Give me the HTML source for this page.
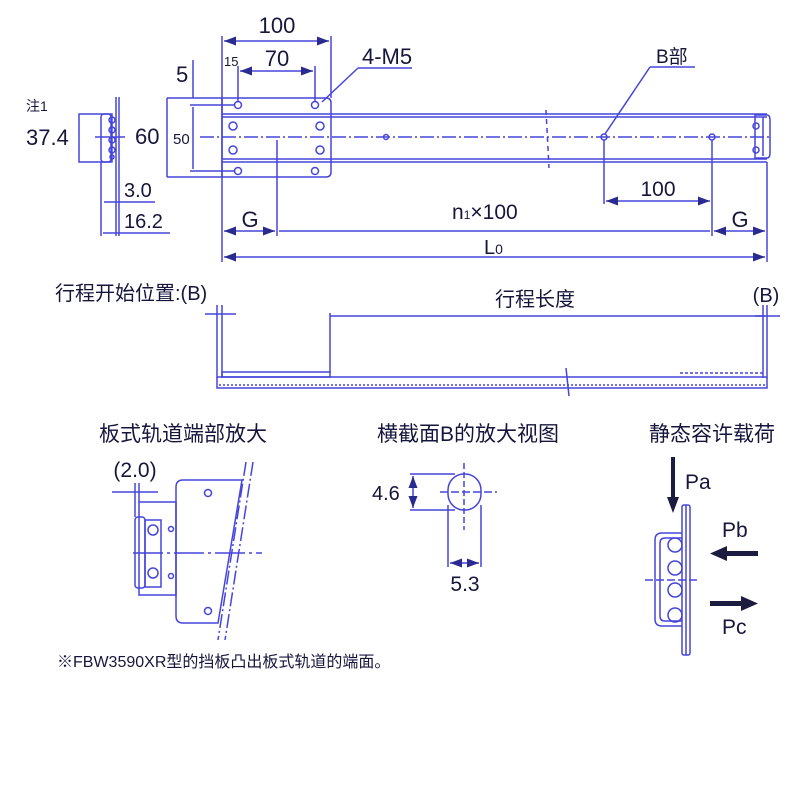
<!DOCTYPE html>
<html><head><meta charset="utf-8"><style>
body{margin:0;background:#fff}
svg{display:block}
text{font-family:"Liberation Sans","Noto Sans CJK SC",sans-serif;fill:#16163c}
</style></head><body>
<svg width="800" height="800" viewBox="0 0 800 800" xmlns="http://www.w3.org/2000/svg">
<defs>
<marker id="a" markerWidth="8" markerHeight="6" refX="8" refY="3" orient="auto-start-reverse"><path d="M0,0 L8,3 L0,6z" fill="#2a2a90"/></marker>
</defs>
<g stroke="#4545dc" stroke-width="1.5" fill="none">
<path d="M222,98 H326 Q331,98 331,103 V172 Q331,177 326,177 H222 Z"/>
<line x1="222" y1="114" x2="767" y2="114"/><line x1="222" y1="117" x2="767" y2="117"/>
<line x1="222" y1="159" x2="767" y2="159"/><line x1="222" y1="162" x2="767" y2="162"/>
<path d="M755,115 H767 Q770,115 770,120 V153 Q770,158 767,158 H755 Z"/>
<line x1="763" y1="117" x2="763" y2="156"/>
<line x1="200" y1="137" x2="770" y2="137" stroke-dasharray="14,3,2,3"/>
<path d="M546,110 L549,168" stroke-dasharray="5,4"/>
<circle cx="238" cy="105" r="3.5"/><circle cx="315" cy="105" r="3.5"/>
<circle cx="238" cy="171" r="3.5"/><circle cx="315" cy="171" r="3.5"/>
<circle cx="233" cy="126" r="4"/><circle cx="320" cy="126" r="4"/>
<circle cx="233" cy="150" r="4"/><circle cx="320" cy="150" r="4"/>
<circle cx="386" cy="137" r="2.5"/><circle cx="604" cy="137" r="3"/><circle cx="712" cy="137" r="3"/>
<circle cx="756" cy="126" r="3"/><circle cx="756" cy="150" r="3"/>
<line x1="222" y1="36" x2="222" y2="262"/><line x1="331" y1="36" x2="331" y2="98"/>
<line x1="224" y1="41" x2="329" y2="41" marker-start="url(#a)" marker-end="url(#a)"/>
<line x1="238" y1="66" x2="238" y2="102"/><line x1="315" y1="66" x2="315" y2="102"/>
<line x1="240" y1="71" x2="313" y2="71" marker-start="url(#a)" marker-end="url(#a)"/>
<line x1="190" y1="105" x2="235" y2="105"/><line x1="190" y1="171" x2="235" y2="171"/>
<line x1="193" y1="60" x2="193" y2="98"/><line x1="193" y1="107" x2="193" y2="169"/>
<line x1="167" y1="98" x2="222" y2="98"/><line x1="167" y1="177" x2="222" y2="177"/>
<line x1="167" y1="98" x2="167" y2="177"/>
<line x1="358" y1="68" x2="412" y2="68"/><line x1="358" y1="68" x2="322" y2="102"/>
<line x1="650" y1="67" x2="695" y2="67"/><line x1="650" y1="67" x2="605" y2="134"/>
<line x1="604" y1="140" x2="604" y2="204"/><line x1="712" y1="140" x2="712" y2="236"/>
<line x1="606" y1="201" x2="710" y2="201" marker-start="url(#a)" marker-end="url(#a)"/>
<line x1="277" y1="140" x2="277" y2="236"/>
<line x1="224" y1="231" x2="275" y2="231" marker-start="url(#a)" marker-end="url(#a)"/>
<line x1="279" y1="231" x2="710" y2="231"/>
<line x1="714" y1="231" x2="765" y2="231" marker-start="url(#a)" marker-end="url(#a)"/>
<line x1="767" y1="162" x2="767" y2="262"/>
<line x1="224" y1="257" x2="765" y2="257" marker-start="url(#a)" marker-end="url(#a)"/>
<path d="M79,114 H112 V162 H79 Z"/>
<rect x="101" y="114" width="10" height="48" rx="3"/>
<line x1="116" y1="97" x2="116" y2="180"/><line x1="119" y1="97" x2="119" y2="180"/>
<circle cx="112" cy="120" r="3"/><circle cx="112" cy="130" r="3"/><circle cx="112" cy="140" r="3"/><circle cx="112" cy="150" r="3"/><circle cx="112" cy="157" r="2"/>
<line x1="95" y1="137" x2="125" y2="137"/>
<line x1="101" y1="162" x2="101" y2="236"/><line x1="116" y1="180" x2="116" y2="236"/><line x1="119" y1="180" x2="119" y2="236"/>
<line x1="104" y1="202" x2="155" y2="202"/>
<line x1="103" y1="233" x2="170" y2="233"/>
<line x1="217" y1="305" x2="217" y2="378"/><line x1="222" y1="305" x2="222" y2="378"/>
<line x1="205" y1="314" x2="236" y2="314"/>
<line x1="330" y1="313" x2="330" y2="373"/>
<line x1="330" y1="316" x2="765" y2="316"/>
<line x1="763" y1="305" x2="763" y2="378"/><line x1="767" y1="305" x2="767" y2="378"/>
<line x1="755" y1="316" x2="780" y2="316"/>
<rect x="222" y="372" width="108" height="5"/>
<line x1="217" y1="377" x2="767" y2="377"/>
<path d="M217,377 V388 H767 V377"/>
<line x1="219" y1="385" x2="765" y2="385" stroke-dasharray="2,2"/>
<line x1="680" y1="373" x2="765" y2="373" stroke-dasharray="3,2"/>
<line x1="566" y1="368" x2="569" y2="396"/>
<path d="M183,480 H242 L218,623 H183 Q176,623 176,616 V487 Q176,480 183,480 Z"/>
<circle cx="208" cy="493" r="3.5"/><circle cx="208" cy="611" r="3.5"/>
<rect x="139" y="502" width="37" height="93"/>
<rect x="135" y="517" width="10" height="71" rx="3"/>
<rect x="145" y="520" width="16" height="67"/>
<circle cx="153" cy="530" r="5"/><circle cx="153" cy="573" r="5"/>
<circle cx="171" cy="529" r="2.5"/><circle cx="171" cy="576" r="2.5"/>
<line x1="133" y1="553" x2="262" y2="553" stroke-dasharray="30,4,3,4"/>
<line x1="246" y1="462" x2="218" y2="640" stroke-dasharray="14,3,2,3"/>
<line x1="253" y1="462" x2="225" y2="640" stroke-dasharray="14,3,2,3"/>
<line x1="135" y1="483" x2="135" y2="517"/><line x1="139" y1="483" x2="139" y2="502"/>
<line x1="112" y1="492" x2="158" y2="492"/>
<rect x="448" y="474" width="33" height="36" rx="16"/>
<line x1="464" y1="463" x2="464" y2="530" stroke-dasharray="6,3"/>
<line x1="440" y1="492" x2="497" y2="492" stroke-dasharray="8,3"/>
<line x1="410" y1="474" x2="455" y2="474"/><line x1="410" y1="510" x2="455" y2="510"/>
<line x1="413" y1="476" x2="413" y2="508" marker-start="url(#a)" marker-end="url(#a)"/>
<line x1="448" y1="505" x2="448" y2="567"/><line x1="481" y1="505" x2="481" y2="567"/>
<line x1="450" y1="563" x2="479" y2="563" marker-start="url(#a)" marker-end="url(#a)"/>
<rect x="682" y="505" width="8" height="150" rx="2"/>
<line x1="686" y1="505" x2="686" y2="655"/>
<path d="M682,533 H662 Q655,533 655,540 V619 Q655,626 662,626 H682"/>
<path d="M682,538 H665 Q660,538 660,543 V616 Q660,621 665,621 H682"/>
<circle cx="675" cy="545" r="7"/><circle cx="675" cy="568" r="7"/><circle cx="675" cy="590" r="7"/><circle cx="675" cy="615" r="7"/>
<line x1="645" y1="580" x2="700" y2="580" stroke-dasharray="8,3"/>
</g>
<g fill="#1c1c40" stroke="none">
<rect x="671" y="457" width="4" height="42"/><path d="M667,497 L679,497 L673,513z"/>
<rect x="725" y="551" width="33" height="5"/><path d="M727,546 L727,561 L710,553.5z"/>
<rect x="710" y="601" width="33" height="5"/><path d="M741,596 L741,611 L758,603.5z"/>
</g>
<g font-size="22">
<text x="277" y="33" text-anchor="middle">100</text>
<text x="277" y="66" text-anchor="middle">70</text>
<text x="224" y="66" font-size="13">15</text>
<text x="176" y="82">5</text>
<text x="173" y="144" font-size="15">50</text>
<text x="135" y="144">60</text>
<text x="362" y="64">4-M5</text>
<text x="656" y="63" font-size="19">B部</text>
<text x="26" y="111" font-size="14">注1</text>
<text x="26" y="145">37.4</text>
<text x="124" y="197" font-size="20">3.0</text>
<text x="124" y="228" font-size="20">16.2</text>
<text x="250" y="227" text-anchor="middle">G</text>
<text x="740" y="227" text-anchor="middle">G</text>
<text x="658" y="196" text-anchor="middle" font-size="21">100</text>
<text x="452" y="219" font-size="21">n<tspan font-size="12">1</tspan>×100</text>
<text x="484" y="254" font-size="20">L<tspan font-size="14">0</tspan></text>
<text x="55" y="300" font-size="20">行程开始位置:(B)</text>
<text x="535" y="306" font-size="20" text-anchor="middle">行程长度</text>
<text x="766" y="302" font-size="20" text-anchor="middle">(B)</text>
<text x="183" y="441" font-size="21" text-anchor="middle">板式轨道端部放大</text>
<text x="468" y="441" font-size="21" text-anchor="middle">横截面B的放大视图</text>
<text x="712" y="441" font-size="21" text-anchor="middle">静态容许载荷</text>
<text x="135" y="477" font-size="21" text-anchor="middle">(2.0)</text>
<text x="372" y="500" font-size="20">4.6</text>
<text x="465" y="591" font-size="21" text-anchor="middle">5.3</text>
<text x="685" y="489" font-size="21">Pa</text>
<text x="722" y="537" font-size="21">Pb</text>
<text x="722" y="634" font-size="21">Pc</text>
<text x="57" y="667" font-size="16">※FBW3590XR型的挡板凸出板式轨道的端面。</text>
</g>
</svg>
</body></html>
